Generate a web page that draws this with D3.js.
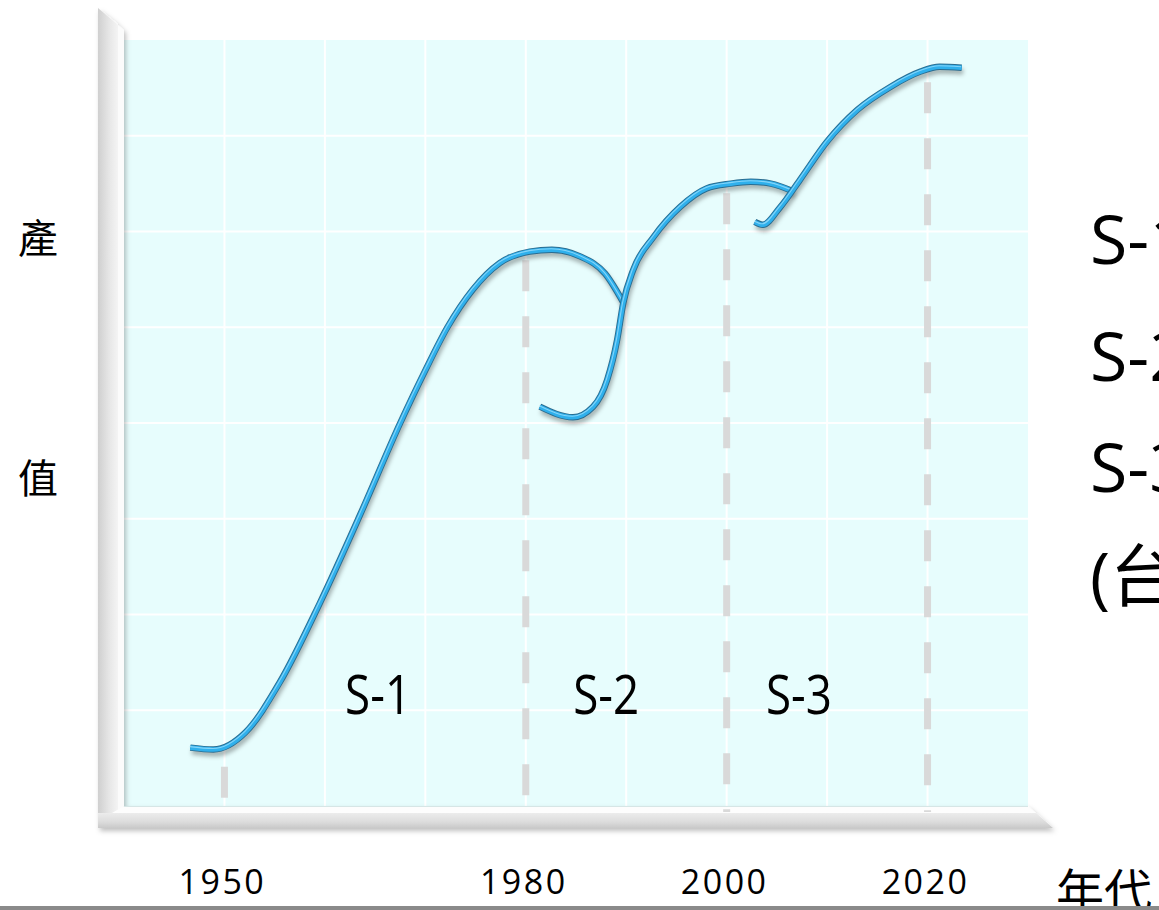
<!DOCTYPE html>
<html>
<head>
<meta charset="utf-8">
<script src="https://cdn.jsdelivr.net/npm/d3@7"></script>
<style>
  html, body { margin: 0; padding: 0; background: #fff; overflow: hidden; }
  svg { display: block; }
</style>
</head>
<body>
<svg id="chart" width="1159" height="910"></svg>
<script>
// Three successive S-curves of output value over the decades: [year, value]
const s1Values = [
  [1946.6, 0.61], [1948.9, 0.59], [1952.1, 0.77], [1955.5, 1.29], [1959.5, 2.12],
  [1963.5, 3.04], [1967.5, 4.00], [1970.0, 4.55], [1972.2, 5.00], [1974.7, 5.39],
  [1977.4, 5.67], [1980.4, 5.79], [1982.6, 5.81], [1985.4, 5.74], [1987.9, 5.56],
  [1989.7, 5.26]
];
const s2Values = [
  [1981.4, 4.17], [1984.7, 4.06], [1986.7, 4.17], [1988.1, 4.45], [1989.1, 4.87],
  [1989.7, 5.25], [1990.7, 5.60], [1992.7, 5.94], [1995.4, 6.26], [1998.0, 6.45],
  [2000.4, 6.50], [2002.4, 6.52], [2004.4, 6.50], [2006.6, 6.42]
];
const s3Values = [
  [2002.8, 6.10], [2003.6, 6.07], [2005.3, 6.25], [2007.3, 6.54], [2010.0, 6.94],
  [2013.0, 7.27], [2016.3, 7.51], [2019.3, 7.67], [2021.2, 7.72], [2023.4, 7.71]
];
const seriesNames = ["S-1", "S-2", "S-3"];

// Era boundaries (dashed markers) and the value where each marker starts
const dividerYears = [1950, 1980, 2000, 2020];
const dividerTops = [0.41, 5.70, 6.40, 7.56];
const yearTickLabels = ["1950", "1980", "2000", "2020"];

const legendLabels = ["S-1", "S-2", "S-3", "(台灣)"];
const yAxisChars = ["產", "值"];
const xAxisTitle = "年代";

const svg = d3.select("#chart");
const W = 1159, H = 910;

const x = d3.scaleLinear().domain([1940, 2030]).range([124, 1028]);
const y = d3.scaleLinear().domain([0, 8]).range([806, 40]);

const defs = svg.append("defs");

// gradients for the 3D frame
const wallGrad = defs.append("linearGradient").attr("id", "wallGrad")
  .attr("x1", "0").attr("x2", "1").attr("y1", "0").attr("y2", "0");
wallGrad.append("stop").attr("offset", "0").attr("stop-color", "#cfcfcf");
wallGrad.append("stop").attr("offset", "0.55").attr("stop-color", "#e6e6e6");
wallGrad.append("stop").attr("offset", "1").attr("stop-color", "#f4f4f4");

const floorGrad = defs.append("linearGradient").attr("id", "floorGrad")
  .attr("x1", "0").attr("x2", "0").attr("y1", "0").attr("y2", "1");
floorGrad.append("stop").attr("offset", "0").attr("stop-color", "#ececec");
floorGrad.append("stop").attr("offset", "0.6").attr("stop-color", "#dcdcdc");
floorGrad.append("stop").attr("offset", "1").attr("stop-color", "#c9c9c9");

const frameShadow = defs.append("filter").attr("id", "frameShadow")
  .attr("x", "-10%").attr("y", "-10%").attr("width", "130%").attr("height", "130%");
frameShadow.append("feDropShadow").attr("dx", 2).attr("dy", 3)
  .attr("stdDeviation", 2.5).attr("flood-color", "#000").attr("flood-opacity", 0.25);

const curveShadow = defs.append("filter").attr("id", "curveShadow")
  .attr("x", "-10%").attr("y", "-10%").attr("width", "120%").attr("height", "120%");
curveShadow.append("feGaussianBlur").attr("stdDeviation", 2.2);

// plot background
svg.append("rect")
  .attr("x", x(1940)).attr("y", y(8))
  .attr("width", x(2030) - x(1940)).attr("height", y(0) - y(8))
  .attr("fill", "#e7fdfd");

// grid
const grid = svg.append("g").attr("stroke", "#ffffff").attr("stroke-width", 2);
grid.selectAll("line.v").data(d3.range(1950, 2030, 10)).join("line")
  .attr("class", "v")
  .attr("x1", d => x(d)).attr("x2", d => x(d))
  .attr("y1", y(8)).attr("y2", y(0));
grid.selectAll("line.h").data(d3.range(1, 8)).join("line")
  .attr("class", "h")
  .attr("x1", x(1940)).attr("x2", x(2030))
  .attr("y1", d => y(d)).attr("y2", d => y(d));

// 3D frame: left wall and floor
const frame = svg.append("g").attr("filter", "url(#frameShadow)");
frame.append("polygon")
  .attr("points", [[98, 8], [118, 24], [118, 828], [98, 828]].join(" "))
  .attr("fill", "url(#wallGrad)");
frame.append("polygon")
  .attr("points", [[98, 8], [124, 30], [124, 806], [118, 812], [118, 24]].join(" "))
  .attr("fill", "#fbfbfb");
frame.append("polygon")
  .attr("points", [[98, 813], [1036, 813], [1053, 828], [98, 828]].join(" "))
  .attr("fill", "url(#floorGrad)");
frame.append("polygon")
  .attr("points", [[124, 806], [1028, 806], [1036, 813], [112, 813]].join(" "))
  .attr("fill", "#fdfdfd");
svg.append("line")
  .attr("x1", 124).attr("x2", 1028).attr("y1", 806.5).attr("y2", 806.5)
  .attr("stroke", "#d6e6e6").attr("stroke-width", 1);

// dashed era markers
svg.append("g").selectAll("line").data(dividerYears).join("line")
  .attr("x1", d => x(d)).attr("x2", d => x(d))
  .attr("y1", (d, i) => y(dividerTops[i]))
  .attr("y2", y(0) + 6)
  .attr("stroke", "#d9d9d9").attr("stroke-width", 7)
  .attr("stroke-dasharray", "31 25");

// S-curves
const line = d3.line()
  .x(d => x(d[0])).y(d => y(d[1]))
  .curve(d3.curveMonotoneX);

const curves = svg.append("g").attr("fill", "none").attr("stroke-linecap", "butt");
[s1Values, s2Values, s3Values].forEach(vals => {
  const g = curves.append("g");
  g.append("path").attr("d", line(vals))
    .attr("stroke", "#000").attr("stroke-opacity", 0.3).attr("stroke-width", 6)
    .attr("transform", "translate(1.5,4)").attr("filter", "url(#curveShadow)");
  g.append("path").attr("d", line(vals))
    .attr("stroke", "#2a6c90").attr("stroke-width", 6.4);
  g.append("path").attr("d", line(vals))
    .attr("stroke", "#2fb0ec").attr("stroke-width", 4.6);
  g.append("path").attr("d", line(vals))
    .attr("stroke", "#a8e4ff").attr("stroke-width", 1.1).attr("stroke-opacity", 0.7)
    .attr("transform", "translate(-0.6,-1)");
});

// era labels inside the plot
const labelYears = [1965.3, 1988.0, 2007.2];
svg.append("g").selectAll("text").data(seriesNames).join("text")
  .attr("x", (d, i) => x(labelYears[i]))
  .attr("y", y(0.96))
  .attr("text-anchor", "middle")
  .attr("font-family", "'Open Sans', sans-serif")
  .attr("font-size", 54)
  .attr("textLength", 66)
  .attr("lengthAdjust", "spacingAndGlyphs")
  .attr("fill", "#000")
  .text(d => d);

// year labels
svg.append("g").selectAll("text").data(yearTickLabels).join("text")
  .attr("x", (d, i) => x(dividerYears[i]) - 2)
  .attr("y", 894)
  .attr("text-anchor", "middle")
  .attr("font-family", "'Open Sans', sans-serif")
  .attr("font-size", 34)
  .attr("letter-spacing", 2.5)
  .attr("fill", "#000")
  .text(d => d);

// vertical axis title
const yTitleY = [236, 476];
svg.append("g").selectAll("text").data(yAxisChars).join("text")
  .attr("x", 38).attr("y", (d, i) => yTitleY[i])
  .attr("text-anchor", "middle")
  .attr("dominant-baseline", "central")
  .attr("font-family", "'Noto Sans CJK TC', sans-serif")
  .attr("font-size", 40)
  .attr("fill", "#000")
  .text(d => d);

// horizontal axis title
svg.append("text")
  .attr("x", 1056).attr("y", 888)
  .attr("dominant-baseline", "central")
  .attr("font-family", "'Noto Sans CJK TC', sans-serif")
  .attr("font-size", 48)
  .attr("fill", "#000")
  .text(xAxisTitle);

// side legend
const legendY = [264, 381, 492, 601];
svg.append("g").selectAll("text").data(legendLabels).join("text")
  .attr("x", 1090).attr("y", (d, i) => legendY[i])
  .attr("font-family", "'Open Sans', 'Noto Sans CJK TC', sans-serif")
  .attr("font-size", 68)
  .attr("fill", "#000")
  .text(d => d);

// bottom rule
svg.append("rect")
  .attr("x", 0).attr("y", 906).attr("width", W).attr("height", 4)
  .attr("fill", "#8a8a8a");
</script>
</body>
</html>
